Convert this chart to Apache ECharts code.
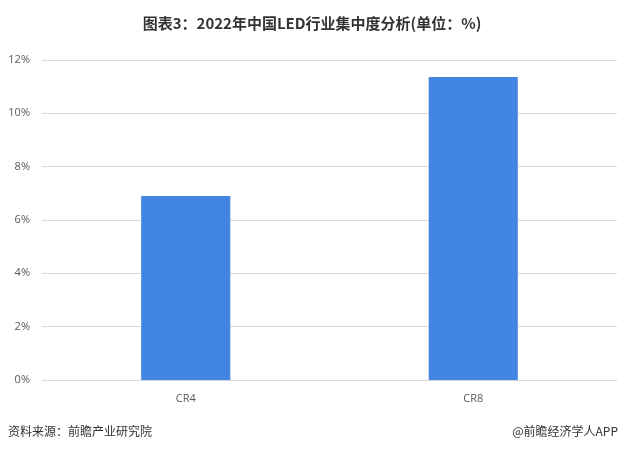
<!DOCTYPE html>
<html><head><meta charset="utf-8">
<script src="https://cdn.jsdelivr.net/npm/echarts@6/dist/echarts.min.js"></script>
<style>html,body{margin:0;padding:0;background:#fff}#c{width:624px;height:451px}</style>
</head><body><div id="c"></div>
<script>
const categories = ['CR4', 'CR8'];
const values = [6.9, 11.36];
const yTicks = [0, 2, 4, 6, 8, 10, 12];
const titleText = '图表3：2022年中国LED行业集中度分析(单位：%)';
const sourceText = '资料来源：前瞻产业研究院';
const brandText = '@前瞻经济学人APP';

const chart = echarts.init(document.getElementById('c'));
chart.setOption({
  backgroundColor: '#fff',
  animation: false,
  title: {
    text: titleText, left: 'center', top: 11,
    textStyle: { fontSize: 15, fontWeight: 'bold', color: '#333', fontFamily: '"Noto Sans CJK SC", sans-serif' }
  },
  graphic: [
    { type: 'text', left: 8, top: 425, style: { text: sourceText, fontSize: 12, fill: '#333', fontFamily: '"Noto Sans CJK SC", sans-serif' } },
    { type: 'text', right: 6, top: 425, style: { text: brandText, fontSize: 12, fill: '#333', fontFamily: '"Noto Sans CJK SC", sans-serif' } }
  ],
  grid: { left: 42, right: 7, top: 60, bottom: 71, containLabel: false },
  xAxis: {
    type: 'category', data: categories,
    axisLine: { show: true, lineStyle: { color: '#d9d9d9' } },
    axisTick: { show: false },
    axisLabel: { color: '#595959', fontSize: 11, margin: 13, fontFamily: '"Open Sans", sans-serif' }
  },
  yAxis: {
    type: 'value', min: yTicks[0], max: yTicks[yTicks.length - 1], interval: 2,
    axisLine: { show: false }, axisTick: { show: false },
    splitLine: { lineStyle: { color: '#d9d9d9' } },
    axisLabel: { color: '#595959', fontSize: 11, margin: 12, formatter: v => v + '%', fontFamily: '"Open Sans", sans-serif' }
  },
  series: [{
    type: 'bar', data: values, barWidth: '31%',
    itemStyle: { color: '#4285E3' }
  }]
});
</script></body></html>
